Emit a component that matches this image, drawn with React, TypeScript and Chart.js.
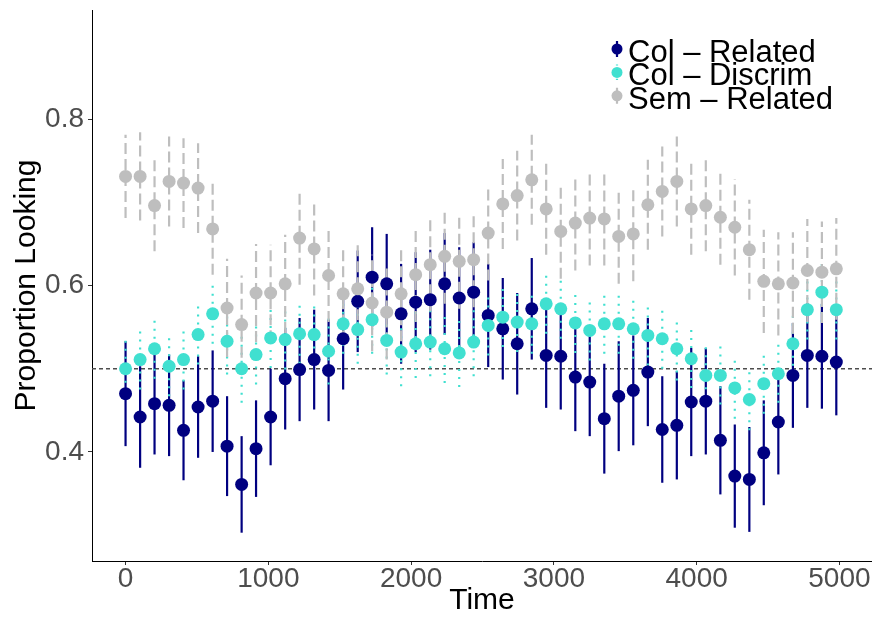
import React, { useEffect, useRef } from 'react';
import { Chart, registerables } from 'chart.js';

Chart.register(...registerables);

// ---- data ----
const times = [
  0, 102, 203, 305, 406, 508, 610, 711, 813, 914,
  1016, 1118, 1219, 1321, 1422, 1524, 1626, 1727, 1829, 1930,
  2032, 2134, 2235, 2337, 2438, 2540, 2642, 2743, 2845, 2946,
  3048, 3150, 3251, 3353, 3454, 3556, 3658, 3759, 3861, 3962,
  4064, 4166, 4267, 4369, 4470, 4572, 4674, 4775, 4877, 4978,
];

const colRelated = [
  0.470, 0.442, 0.458, 0.456, 0.426, 0.454, 0.461, 0.407, 0.361, 0.404,
  0.442, 0.488, 0.499, 0.511, 0.498, 0.536, 0.581, 0.610, 0.602, 0.566,
  0.580, 0.583, 0.602, 0.585, 0.592, 0.564, 0.548, 0.530, 0.572, 0.516,
  0.515, 0.490, 0.484, 0.440, 0.467, 0.474, 0.496, 0.427, 0.432, 0.460,
  0.461, 0.414, 0.371, 0.367, 0.399, 0.436, 0.492, 0.516, 0.515, 0.508,
];
const colRelatedErr = [
  0.063, 0.061, 0.061, 0.061, 0.060, 0.061, 0.061, 0.060, 0.058, 0.058,
  0.058, 0.061, 0.062, 0.060, 0.061, 0.061, 0.061, 0.060, 0.060, 0.060,
  0.060, 0.060, 0.061, 0.061, 0.060, 0.062, 0.061, 0.061, 0.061, 0.063,
  0.064, 0.065, 0.065, 0.066, 0.066, 0.066, 0.065, 0.064, 0.065, 0.065,
  0.064, 0.065, 0.062, 0.063, 0.063, 0.063, 0.063, 0.063, 0.063, 0.064,
];

const colDiscrim = [
  0.500, 0.511, 0.524, 0.503, 0.511, 0.541, 0.566, 0.533, 0.500, 0.517,
  0.537, 0.535, 0.542, 0.541, 0.521, 0.554, 0.547, 0.559, 0.534, 0.520,
  0.530, 0.532, 0.524, 0.519, 0.532, 0.552, 0.562, 0.556, 0.554, 0.578,
  0.572, 0.555, 0.546, 0.554, 0.554, 0.548, 0.540, 0.536, 0.524, 0.512,
  0.492, 0.492, 0.477, 0.463, 0.482, 0.494, 0.530, 0.571, 0.592, 0.571,
];
const colDiscrimErr = [
  0.036, 0.036, 0.036, 0.036, 0.036, 0.036, 0.036, 0.040, 0.041, 0.036,
  0.036, 0.036, 0.036, 0.036, 0.040, 0.036, 0.041, 0.041, 0.041, 0.041,
  0.041, 0.041, 0.041, 0.041, 0.041, 0.036, 0.036, 0.036, 0.036, 0.036,
  0.036, 0.036, 0.036, 0.036, 0.036, 0.036, 0.036, 0.036, 0.038, 0.035,
  0.036, 0.035, 0.037, 0.037, 0.036, 0.035, 0.036, 0.036, 0.036, 0.036,
];

const semRelated = [
  0.731, 0.731, 0.696, 0.725, 0.723, 0.717, 0.668, 0.573, 0.553, 0.591,
  0.591, 0.602, 0.657, 0.644, 0.612, 0.590, 0.596, 0.579, 0.568, 0.590,
  0.613, 0.625, 0.635, 0.629, 0.631, 0.663, 0.698, 0.708, 0.727, 0.692,
  0.665, 0.675, 0.681, 0.680, 0.659, 0.662, 0.697, 0.713, 0.725, 0.692,
  0.696, 0.682, 0.670, 0.643, 0.605, 0.602, 0.603, 0.618, 0.616, 0.620,
];
const semRelatedErr = [
  0.050, 0.053, 0.055, 0.054, 0.054, 0.054, 0.055, 0.059, 0.059, 0.059,
  0.058, 0.059, 0.056, 0.056, 0.056, 0.057, 0.057, 0.058, 0.057, 0.057,
  0.057, 0.056, 0.057, 0.057, 0.057, 0.057, 0.054, 0.054, 0.054, 0.055,
  0.057, 0.057, 0.057, 0.056, 0.057, 0.057, 0.054, 0.054, 0.054, 0.055,
  0.055, 0.057, 0.058, 0.060, 0.062, 0.062, 0.061, 0.062, 0.061, 0.061,
];

const seriesLabels = ['Col – Related', 'Col – Discrim', 'Sem – Related'];
const xTicks = [0, 1000, 2000, 3000, 4000, 5000];
const yTicks = [0.4, 0.6, 0.8];
const referenceLevel = 0.5;
const xTitle = 'Time';
const yTitle = 'Proportion Looking';

// ---- styles ----
const FONT = '"Liberation Sans", Arial, Helvetica, sans-serif';
const seriesStyles = [
  { color: '#000080', dash: [] as number[], width: 2.2 },
  { color: '#40E0D0', dash: [2, 6], width: 2.2 },
  { color: '#BEBEBE', dash: [11, 5], width: 2.2 },
];

const zeroPad = (s: any) => {
  s.paddingLeft = 0;
  s.paddingRight = 0;
  s.paddingTop = 0;
  s.paddingBottom = 0;
};

export default function App() {
  const ref = useRef<HTMLCanvasElement | null>(null);

  useEffect(() => {
    const canvas = ref.current;
    if (!canvas) return;

    const values = [colRelated, colDiscrim, semRelated];
    const errs = [colRelatedErr, colDiscrimErr, semRelatedErr];

    const errorBarPlugin = {
      id: 'errorBars',
      beforeDatasetsDraw(chart: any) {
        const { ctx, chartArea, scales } = chart;
        const xs = scales.x;
        const ys = scales.y;
        ctx.save();
        // reference line
        ctx.beginPath();
        ctx.setLineDash([4, 3]);
        ctx.strokeStyle = '#4D4D4D';
        ctx.lineWidth = 1.4;
        const ry = ys.getPixelForValue(referenceLevel);
        ctx.moveTo(chartArea.left, ry);
        ctx.lineTo(chartArea.right, ry);
        ctx.stroke();
        // error bars
        ctx.lineCap = 'butt';
        values.forEach((vals, s) => {
          const st = seriesStyles[s];
          ctx.strokeStyle = st.color;
          ctx.lineWidth = st.width;
          ctx.setLineDash(st.dash);
          vals.forEach((v, i) => {
            const x = xs.getPixelForValue(times[i]);
            const y1 = ys.getPixelForValue(v - errs[s][i]);
            const y2 = ys.getPixelForValue(v + errs[s][i]);
            ctx.beginPath();
            ctx.moveTo(x, y1);
            ctx.lineTo(x, y2);
            ctx.stroke();
          });
        });
        ctx.restore();
      },
      afterDraw(chart: any) {
        const { ctx } = chart;
        ctx.save();
        const x0 = 617;
        const baseY = 49;
        const step = 23.4;
        seriesLabels.forEach((label, s) => {
          const st = seriesStyles[s];
          const cy = baseY + s * step;
          ctx.strokeStyle = st.color;
          ctx.lineWidth = st.width;
          ctx.setLineDash(st.dash.length ? st.dash.map((d) => d * 0.6) : []);
          ctx.beginPath();
          ctx.moveTo(x0, cy - 8);
          ctx.lineTo(x0, cy + 8);
          ctx.stroke();
          ctx.setLineDash([]);
          ctx.fillStyle = st.color;
          ctx.beginPath();
          ctx.arc(x0, cy, 5.5, 0, Math.PI * 2);
          ctx.fill();
          ctx.fillStyle = '#000000';
          ctx.font = `31px ${FONT}`;
          ctx.textAlign = 'left';
          ctx.textBaseline = 'alphabetic';
          ctx.fillText(label, 628, cy + 12.7);
        });
        ctx.restore();
      },
    };

    const datasets = values.map((vals, s) => ({
      label: seriesLabels[s],
      data: vals.map((v, i) => ({ x: times[i], y: v })),
      backgroundColor: seriesStyles[s].color,
      borderColor: seriesStyles[s].color,
      borderWidth: 0,
      pointRadius: 6.5,
      pointHoverRadius: 6.5,
      showLine: false,
      order: 2 - s,
    }));

    const chart = new Chart(canvas, {
      type: 'scatter',
      data: { datasets },
      plugins: [errorBarPlugin],
      options: {
        responsive: false,
        animation: false,
        events: [],
        layout: { autoPadding: false, padding: { top: 10, right: 0, bottom: 0, left: 0 } },
        plugins: {
          legend: { display: false },
          tooltip: { enabled: false },
        },
        scales: {
          x: {
            type: 'linear',
            min: -235,
            max: 5228,
            afterBuildTicks: (s: any) => {
              s.ticks = xTicks.map((v) => ({ value: v }));
            },
            afterFit: (s: any) => {
              s.height = 58;
              zeroPad(s);
            },
            ticks: {
              autoSkip: false,
              maxRotation: 0,
              padding: 0,
              color: '#4D4D4D',
              font: { family: FONT, size: 28, lineHeight: 1 },
              callback: (v: any) => String(v),
            },
            grid: {
              display: true,
              drawOnChartArea: false,
              drawTicks: true,
              tickLength: 4,
              color: '#333333',
              lineWidth: 1,
            },
            border: { display: true, color: '#000000', width: 1 },
            title: {
              display: true,
              text: xTitle,
              color: '#000000',
              font: { family: FONT, size: 30, lineHeight: 1.2 },
              padding: { top: 0, bottom: 0 },
            },
          },
          y: {
            type: 'linear',
            min: 0.269,
            max: 0.931,
            afterBuildTicks: (s: any) => {
              s.ticks = yTicks.map((v) => ({ value: v }));
            },
            afterFit: (s: any) => {
              s.width = 92;
              zeroPad(s);
            },
            ticks: {
              padding: 4,
              color: '#4D4D4D',
              font: { family: FONT, size: 28, lineHeight: 1.2 },
              callback: (v: any) => Number(v).toFixed(1),
            },
            grid: {
              display: true,
              drawOnChartArea: false,
              drawTicks: true,
              tickLength: 4,
              color: '#333333',
              lineWidth: 1,
            },
            border: { display: true, color: '#000000', width: 1 },
            title: {
              display: true,
              text: yTitle,
              color: '#000000',
              font: { family: FONT, size: 30, lineHeight: 1.2 },
              padding: { top: 9, bottom: 0 },
            },
          },
        },
      },
    } as any);

    return () => chart.destroy();
  }, []);

  return (
    <div style={{ position: 'fixed', left: 0, top: 0, width: 872, height: 619, background: '#ffffff' }}>
      <canvas ref={ref} width={872} height={619} style={{ display: 'block' }} />
    </div>
  );
}
